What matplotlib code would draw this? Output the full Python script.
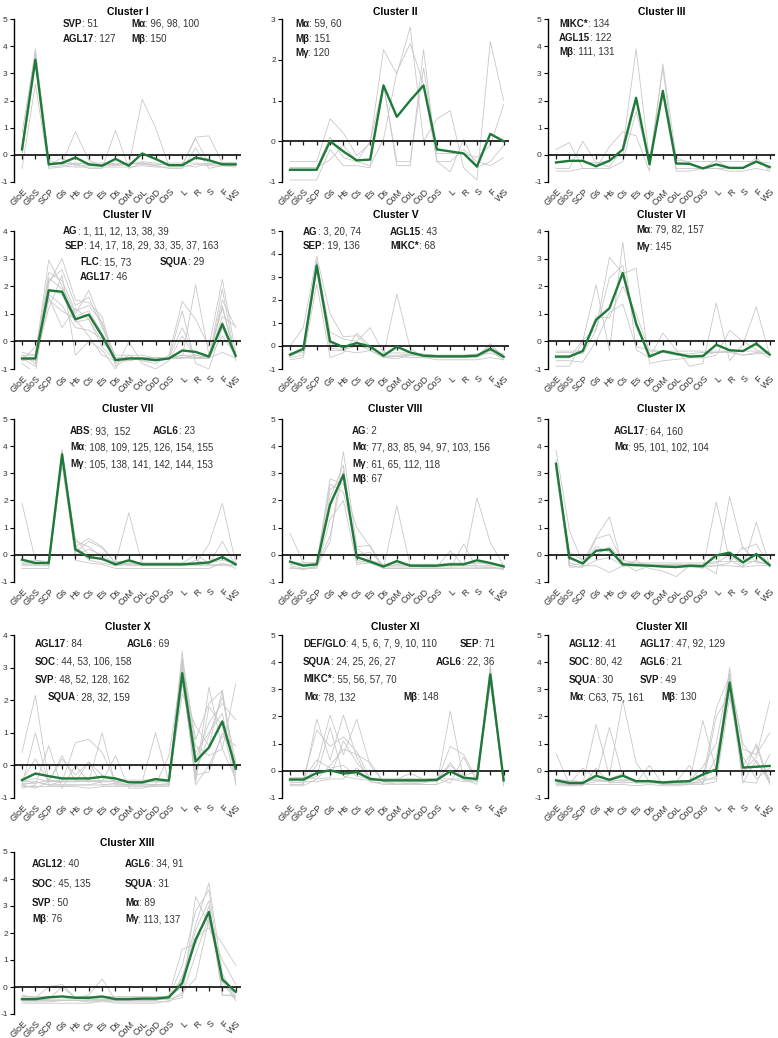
import matplotlib
matplotlib.use('Agg')
import matplotlib.pyplot as plt
from matplotlib.transforms import ScaledTranslation

plt.rcParams['font.family'] = ['Liberation Sans', 'DejaVu Sans']
plt.rcParams['axes.unicode_minus'] = False

tissues = ['GloE', 'GloS', 'SCP', 'Gs', 'Hs', 'Cs', 'Es', 'Ds', 'CoM', 'CoL',
           'CoD', 'CoS', 'L', 'R', 'S', 'F', 'WS']

titles = ['Cluster I', 'Cluster II', 'Cluster III', 'Cluster IV', 'Cluster V',
          'Cluster VI', 'Cluster VII', 'Cluster VIII', 'Cluster IX', 'Cluster X',
          'Cluster XI', 'Cluster XII', 'Cluster XIII']

y_ranges = [(-1, 5), (-1, 3), (-1, 5), (-1, 4), (-1, 5), (-1, 4), (-1, 5),
            (-1, 5), (-1, 5), (-1, 4), (-1, 5), (-1, 5), (-1, 5)]

# cluster means (green)
mean_1 = [0.2, 3.5, -0.35, -0.3, -0.1, -0.35, -0.4, -0.15, -0.4, 0.05, -0.15, -0.38, -0.38, -0.1, -0.2, -0.35, -0.35]
mean_2 = [-0.7, -0.7, -0.7, 0.0, -0.25, -0.47, -0.45, 1.37, 0.6, 1.0, 1.37, -0.2, -0.25, -0.3, -0.62, 0.18, 0.0]
mean_3 = [-0.28, -0.22, -0.22, -0.42, -0.22, 0.2, 2.1, -0.35, 2.35, -0.32, -0.33, -0.5, -0.35, -0.48, -0.48, -0.25, -0.45]
mean_4 = [-0.62, -0.62, 1.85, 1.8, 0.8, 0.97, 0.2, -0.68, -0.62, -0.62, -0.68, -0.62, -0.33, -0.38, -0.55, 0.63, -0.52]
mean_5 = [-0.38, -0.12, 3.5, 0.2, -0.05, 0.13, -0.02, -0.42, -0.03, -0.28, -0.42, -0.45, -0.45, -0.45, -0.42, -0.12, -0.47]
mean_6 = [-0.55, -0.55, -0.35, 0.78, 1.2, 2.48, 0.65, -0.55, -0.35, -0.45, -0.55, -0.53, -0.12, -0.32, -0.35, -0.08, -0.48]
mean_7 = [-0.18, -0.3, -0.3, 3.7, 0.2, -0.08, -0.15, -0.35, -0.2, -0.35, -0.35, -0.35, -0.35, -0.32, -0.28, -0.08, -0.35]
mean_8 = [-0.25, -0.4, -0.35, 1.85, 2.95, -0.08, -0.25, -0.43, -0.23, -0.4, -0.4, -0.4, -0.35, -0.35, -0.2, -0.3, -0.43]
mean_9 = [3.35, -0.1, -0.32, 0.15, 0.2, -0.35, -0.38, -0.4, -0.43, -0.45, -0.4, -0.42, -0.02, 0.08, -0.28, 0.03, -0.38]
mean_10 = [-0.45, -0.25, -0.33, -0.4, -0.4, -0.4, -0.35, -0.4, -0.52, -0.52, -0.42, -0.47, 2.83, 0.12, 0.55, 1.35, -0.1]
mean_11 = [-0.32, -0.32, -0.08, 0.02, -0.1, -0.05, -0.3, -0.35, -0.35, -0.35, -0.35, -0.33, -0.02, -0.25, -0.3, 3.55, -0.35]
mean_12 = [-0.35, -0.45, -0.45, -0.18, -0.33, -0.18, -0.38, -0.38, -0.43, -0.4, -0.38, -0.13, 0.05, 3.25, 0.12, 0.15, 0.18]
mean_13 = [-0.45, -0.45, -0.38, -0.35, -0.4, -0.4, -0.35, -0.45, -0.45, -0.43, -0.43, -0.38, 0.15, 1.75, 2.78, 0.28, -0.18]

# member genes (gray)
genes_1 = [
    [0.8, 3.8, -0.3, -0.3, 0.85, -0.2, -0.4, -0.3, -0.4, 2.05, 1.0, -0.4, -0.4, 0.65, 0.7, -0.3, -0.3],
    [-0.5, 2.6, -0.5, -0.45, -0.3, -0.5, -0.5, 0.9, -0.5, -0.3, -0.4, -0.5, -0.5, 0.25, -0.5, -0.4, -0.4],
    [0.2, 3.7, -0.4, -0.1, -0.4, -0.4, -0.35, -0.35, -0.35, -0.3, -0.35, -0.35, -0.35, -0.45, -0.3, -0.35, -0.4],
    [0.1, 3.6, -0.45, -0.4, -0.45, -0.45, -0.45, -0.45, -0.45, -0.4, -0.45, -0.45, -0.45, -0.35, -0.4, -0.4, -0.45],
    [0.3, 3.9, -0.2, -0.35, -0.3, -0.35, -0.4, -0.4, -0.35, -0.25, -0.3, -0.4, -0.35, 0.6, -0.35, -0.3, -0.3],
    [0.0, 3.4, -0.35, -0.3, -0.35, -0.3, -0.3, -0.35, -0.3, -0.35, -0.4, -0.3, -0.3, -0.3, -0.35, -0.3, -0.3],
]
genes_2 = [
    [-0.5, -0.5, -0.5, 0.55, 0.2, -0.35, -0.05, 2.25, 1.65, 2.8, 0.0, 0.55, 0.75, -0.65, -0.95, 2.45, 1.0],
    [-0.95, -0.95, -0.95, -0.2, -0.6, -0.6, -0.65, 1.4, -0.6, -0.6, 2.25, -0.5, -0.75, 0.05, -0.65, -0.5, -0.1],
    [-0.65, -0.65, -0.65, 0.1, -0.4, -0.5, -0.6, 0.05, 1.7, 2.4, 1.4, -0.5, -0.5, -0.2, -0.5, -0.6, -0.4],
    [-0.65, -0.65, -0.65, -0.45, -0.1, -0.5, 0.0, 1.4, -0.5, -0.5, 1.8, -0.3, -0.3, -0.3, -0.4, -0.1, 0.9],
]
genes_3 = [
    [0.2, 0.45, -0.5, -0.5, 0.3, 0.85, 0.7, -0.6, 3.35, -0.1, -0.3, -0.5, -0.2, -0.5, -0.5, -0.1, -0.6],
    [-0.5, -0.5, 0.5, -0.3, -0.45, 0.25, 3.9, -0.2, 2.2, -0.5, -0.5, -0.5, -0.5, -0.5, -0.5, -0.2, -0.5],
    [-0.6, -0.6, -0.5, -0.5, -0.5, -0.25, 1.6, -0.25, 3.2, -0.6, -0.6, -0.5, -0.5, -0.6, -0.6, -0.5, -0.6],
    [-0.3, -0.25, -0.25, -0.3, -0.2, 0.0, 2.0, -0.25, 2.4, -0.2, -0.25, -0.25, -0.25, -0.25, -0.25, -0.25, -0.3],
]
genes_4 = [
    [-0.4, -0.5, 2.95, 2.0, 1.0, 1.85, 0.6, -0.8, -0.5, -0.7, -0.8, -0.5, 1.45, 0.8, -0.2, 2.25, -0.4],
    [-0.8, -1.15, 2.1, 3.0, 1.5, 1.4, 0.9, -0.9, -0.6, -0.7, -0.7, -0.6, -0.6, 2.05, -0.5, 1.2, -0.6],
    [-0.6, -0.6, 1.2, 2.4, -0.5, 0.0, -0.3, -1.0, 0.0, -0.8, -1.0, -0.7, 0.2, -0.6, -0.6, 1.9, -0.7],
    [-0.7, -0.2, 1.6, 0.5, 1.2, 0.8, -0.2, -0.7, -0.6, -0.6, -0.7, -0.6, 1.1, -0.8, -1.0, 0.5, -0.6],
    [-0.5, -0.8, 2.3, 1.9, 0.9, 1.1, 0.3, -0.6, -0.6, -0.6, -0.6, -0.6, -0.5, -0.6, -0.6, 1.5, 0.5],
    [-0.6, -0.7, 1.7, 1.3, 0.5, 0.4, 0.1, -0.7, -0.7, -0.6, -0.7, -0.6, -0.6, -0.5, -0.6, 0.2, -0.5],
    [-0.7, -0.6, 2.2, 2.6, 1.3, 1.6, 0.5, -0.5, -0.5, -0.5, -0.6, -0.6, -0.5, -0.5, -0.6, -0.4, -0.6],
    [-0.6, -0.6, 1.9, 1.7, 0.7, 0.8, 0.0, -0.6, -0.6, -0.6, -0.6, -0.6, -0.6, -0.6, -0.6, 0.9, 0.55],
    [-0.6, -0.9, 1.5, 1.1, 0.8, 0.2, -0.5, -0.7, -0.7, -0.6, -0.6, -0.6, -0.6, -0.6, -0.6, 1.3, -0.6],
    [-0.5, -0.5, 2.5, 2.2, 1.1, 1.3, 0.7, -0.6, -0.6, -0.6, -0.6, -0.6, 0.5, -0.6, -0.5, 0.7, -0.5],
]
genes_5 = [
    [0.0, 0.8, 3.9, 1.4, 0.4, 0.45, -0.1, -0.4, 2.25, -0.1, -0.5, -0.5, -0.5, -0.5, -0.45, 0.1, -0.5],
    [-0.6, -0.5, 2.7, -0.5, -0.3, 0.55, 0.0, -0.5, -0.55, -0.4, -0.45, -0.5, -0.5, -0.5, -0.5, -0.2, -0.6],
    [-0.4, -0.1, 3.7, 0.6, 0.3, 0.2, 0.8, -0.3, -0.3, -0.3, -0.35, -0.4, -0.4, -0.4, -0.4, 0.0, -0.4],
    [-0.5, -0.4, 3.3, -0.2, -0.2, -0.3, -0.2, -0.5, -0.45, -0.5, -0.5, -0.6, -0.6, -0.6, -0.6, -0.5, -0.6],
    [-0.3, -0.3, 3.6, -0.1, -0.15, 0.0, -0.1, -0.4, -0.4, -0.35, -0.4, -0.4, -0.4, -0.4, -0.35, -0.2, -0.35],
    [-0.45, -0.2, 3.4, 0.1, -0.1, 0.1, -0.2, -0.45, -0.45, -0.4, -0.45, -0.45, -0.45, -0.45, -0.45, -0.3, -0.5],
]
genes_6 = [
    [-0.9, -0.9, 0.0, 2.05, -0.35, 3.6, -0.3, -0.6, 0.3, -0.3, -0.9, -0.8, 1.4, -0.7, -0.1, 1.25, -0.5],
    [-0.6, -0.6, 0.05, 0.45, 3.05, 2.45, 2.65, -0.8, -0.7, -0.65, -0.6, -0.6, -0.5, 0.4, 0.0, -0.3, -0.6],
    [-0.4, -0.4, -0.45, 0.4, 2.3, 2.75, 0.5, -0.5, -0.4, -0.5, -0.5, -0.5, -0.4, -0.4, -0.5, -0.4, -0.45],
    [-0.7, -0.7, -0.75, 0.0, 1.05, 1.35, -0.2, -0.3, -0.4, -0.45, -0.45, -0.4, -0.4, -0.35, -0.5, -0.45, -0.4],
    [-0.35, -0.35, -0.35, 0.9, 0.85, 2.0, 1.0, -0.35, -0.35, -0.35, -0.35, -0.35, -0.35, -0.35, -0.35, -0.35, -0.35],
]
genes_7 = [
    [1.9, -0.2, -0.3, 3.6, 0.3, 0.6, 0.3, -0.3, 1.55, -0.35, -0.35, -0.35, -0.35, -0.35, 0.4, 1.9, -0.3],
    [-0.3, -0.3, -0.3, 3.8, 0.5, 0.3, -0.1, -0.4, -0.3, -0.4, -0.4, -0.4, -0.4, -0.2, -0.35, 0.5, -0.4],
    [-0.4, -0.4, -0.4, 3.4, 0.1, 0.5, 0.25, -0.3, -0.4, -0.4, -0.4, -0.4, -0.4, -0.4, -0.4, -0.4, -0.4],
    [-0.5, -0.5, -0.5, 3.9, -0.2, -0.3, -0.35, -0.5, -0.5, -0.5, -0.5, -0.5, -0.5, -0.5, -0.5, -0.3, -0.5],
    [-0.2, -0.2, -0.25, 3.5, 0.6, 0.0, -0.2, -0.25, -0.25, -0.3, -0.3, -0.3, -0.3, 0.0, -0.3, -0.2, -0.3],
    [-0.35, -0.35, -0.4, 3.7, 0.35, -0.2, -0.3, -0.4, -0.35, -0.35, -0.35, -0.35, -0.35, -0.35, -0.35, -0.35, -0.35],
    [-0.3, -0.3, -0.35, 3.3, 0.0, 0.2, 0.0, -0.35, -0.3, -0.3, -0.3, -0.3, -0.3, -0.3, -0.3, -0.1, -0.3],
]
genes_8 = [
    [0.8, -0.3, -0.3, 2.8, 2.6, 1.0, 0.3, -0.5, 1.8, -0.4, -0.45, -0.45, 0.15, -0.4, 2.1, 0.45, -0.4],
    [-0.4, -0.5, -0.45, 0.5, 3.8, 0.3, 0.35, -0.5, -0.5, -0.5, -0.5, -0.5, -0.5, 0.4, -0.5, -0.5, -0.5],
    [-0.45, -0.55, -0.4, 2.6, 2.3, 0.25, -0.2, -0.45, -0.45, -0.45, -0.45, -0.45, -0.45, -0.45, -0.45, -0.45, -0.55],
    [-0.3, -0.3, -0.3, 2.1, 3.3, -0.3, -0.2, -0.35, -0.3, -0.35, -0.35, -0.35, -0.35, -0.35, -0.3, -0.35, -0.35],
    [-0.5, -0.5, -0.5, 1.3, 2.0, -0.35, -0.3, -0.5, -0.5, -0.5, -0.5, -0.5, -0.5, -0.5, -0.5, -0.45, -0.5],
    [-0.35, -0.4, -0.35, 2.4, 2.8, 0.0, 0.1, -0.4, -0.4, -0.4, -0.4, -0.4, -0.4, -0.4, -0.4, -0.4, -0.4],
    [-0.25, -0.35, -0.4, 0.7, 3.1, -0.2, -0.3, -0.45, -0.35, -0.35, -0.35, -0.35, -0.3, -0.3, -0.3, -0.3, -0.4],
]
genes_9 = [
    [3.85, 0.9, -0.3, 0.65, 1.4, -0.45, -0.2, -0.5, -0.6, -0.8, -0.4, -0.5, 1.95, -0.2, -0.45, 1.2, -0.4],
    [3.2, -0.45, -0.45, 0.6, 0.75, -0.3, -0.6, -0.4, -0.4, -0.4, -0.4, -0.4, -0.7, 2.15, 0.2, 0.4, -0.45],
    [3.5, -0.3, -0.4, -0.4, -0.65, -0.4, -0.4, -0.4, -0.4, -0.35, -0.4, -0.4, -0.4, -0.3, 0.3, -0.3, -0.3],
    [3.1, -0.4, -0.3, 0.3, 0.1, -0.3, -0.3, -0.35, -0.35, -0.35, -0.35, -0.35, -0.3, 0.0, -0.4, -0.2, -0.4],
    [3.3, 0.1, -0.2, 0.0, 0.3, -0.2, -0.3, -0.3, -0.3, -0.3, -0.3, -0.3, -0.25, -0.25, -0.25, -0.25, -0.35],
    [3.4, -0.4, -0.45, -0.2, -0.1, -0.4, -0.4, -0.4, -0.45, -0.45, -0.45, -0.45, -0.4, -0.4, -0.45, -0.4, -0.4],
]
genes_10 = [
    [0.4, 2.15, -0.5, 0.2, -0.3, 0.1, -0.3, -0.5, -0.6, -0.5, -0.5, -0.5, 3.5, -0.4, 2.4, 0.5, 2.5],
    [-0.6, 1.0, -0.6, -0.5, 0.7, 0.8, 0.4, -0.5, -0.5, -0.5, 1.0, -0.5, 3.3, 0.8, 1.9, 2.3, -0.6],
    [-0.7, -0.6, 0.6, -0.7, 0.0, -0.5, 1.0, -0.6, -0.6, -0.6, -0.6, -0.6, 2.5, 0.2, 1.3, 1.9, 1.4],
    [-0.5, -0.5, -0.6, -0.6, -0.6, -0.6, -0.5, 0.3, -0.7, -0.7, -0.6, 0.3, 3.0, -0.5, 1.8, 1.2, -0.5],
    [-0.6, -0.7, -0.5, 0.3, -0.5, -0.5, -0.5, -0.5, -0.5, -0.5, -0.5, -0.5, 2.2, 1.2, 0.6, 2.3, -0.2],
    [-0.5, -0.4, -0.5, -0.5, -0.5, 0.1, -0.6, -0.6, -0.6, -0.6, -0.6, -0.6, 2.9, -0.6, 0.0, 0.9, 0.6],
    [-0.6, -0.5, -0.6, -0.6, -0.6, -0.6, -0.6, -0.55, -0.6, -0.55, -0.6, -0.55, 3.1, 0.4, 1.0, 1.6, -0.3],
    [-0.55, -0.55, -0.45, -0.5, -0.5, -0.45, -0.5, -0.5, -0.5, -0.5, -0.5, -0.5, 2.7, -0.3, -0.2, 1.0, 0.2],
    [-0.45, 0.2, -0.5, -0.45, -0.45, -0.5, -0.45, -0.45, -0.45, -0.45, -0.45, -0.45, 2.6, -0.2, 0.9, 2.1, 0.1],
    [-0.65, -0.65, -0.65, -0.65, -0.65, -0.7, -0.65, -0.65, -0.65, -0.65, -0.65, -0.65, 3.2, 0.6, 0.3, 0.5, -0.4],
]
genes_11 = [
    [-0.5, -0.5, 1.9, 0.4, 2.05, 0.5, -0.4, -0.5, -0.5, -0.5, -0.5, -0.5, 2.2, -0.3, -0.5, 3.8, -0.5],
    [-0.4, -0.45, 0.2, 2.05, 0.6, 1.9, 0.2, -0.4, -0.4, -0.4, -0.4, -0.4, 0.9, 0.6, -0.3, 3.7, -0.4],
    [-0.3, -0.3, 1.5, 0.9, 1.25, 0.7, -0.3, -0.3, -0.3, -0.3, -0.3, -0.3, 0.2, -0.2, 0.0, 3.4, -0.4],
    [-0.55, -0.55, -0.3, 0.2, 0.8, 0.6, 0.3, -0.4, -0.5, -0.45, -0.5, -0.5, -0.3, -0.4, -0.4, 3.5, -0.55],
    [-0.35, -0.35, -0.2, 1.6, -0.2, -0.3, -0.35, -0.35, -0.3, -0.1, -0.3, -0.35, 0.3, -0.35, -0.35, 3.3, -0.35],
    [-0.25, -0.25, -0.3, -0.25, 1.1, 0.3, -0.25, -0.3, -0.3, -0.3, -0.3, -0.3, -0.3, -0.3, -0.3, 3.6, -0.3],
    [-0.45, -0.4, -0.4, -0.3, -0.3, 0.1, -0.4, -0.45, -0.45, -0.45, -0.45, -0.3, -0.45, 0.5, -0.4, 3.9, -0.45],
    [-0.3, -0.3, 0.4, 0.1, 0.2, -0.2, -0.3, -0.3, -0.3, -0.3, -0.3, -0.3, 0.0, -0.3, -0.3, 3.2, -0.3],
]
genes_12 = [
    [0.65, -0.5, -0.5, 1.7, -0.2, 2.6, 0.3, -0.4, -0.5, -0.5, -0.4, 1.85, 0.0, 3.8, -0.2, 1.0, -0.4],
    [-0.5, -0.5, 0.1, -0.3, 1.6, -0.2, -0.4, -0.4, -0.5, -0.4, 0.2, -0.5, 2.0, 2.8, 0.0, 0.5, 2.55],
    [-0.4, -0.55, -0.55, 0.1, -0.45, -0.4, -0.45, 0.2, -0.5, -0.5, -0.5, -0.3, 2.3, 3.5, 0.8, 0.6, 1.4],
    [-0.45, -0.45, -0.5, -0.4, -0.4, -0.45, -0.4, -0.4, -0.45, -0.45, -0.45, -0.4, -0.2, 3.0, 0.2, 0.9, -0.5],
    [-0.3, -0.4, -0.4, -0.3, -0.4, -0.3, -0.4, -0.4, -0.4, -0.35, -0.35, 0.15, 1.0, 3.6, -0.4, -0.45, 0.6],
    [-0.55, -0.55, -0.5, -0.5, -0.5, -0.5, -0.55, -0.5, -0.55, -0.55, -0.5, -0.5, -0.4, 2.7, 0.5, -0.3, 0.1],
    [-0.35, -0.35, -0.4, -0.35, -0.35, -0.35, -0.35, -0.35, -0.4, -0.4, -0.35, -0.3, -0.3, 3.4, 1.0, 0.3, -0.3],
    [-0.45, -0.5, -0.45, -0.2, -0.3, -0.1, -0.45, -0.45, -0.45, -0.45, -0.45, -0.45, 0.5, 3.1, -0.45, 0.4, -0.45],
]
genes_13 = [
    [-0.6, -0.6, -0.6, -0.6, -0.6, -0.6, -0.5, -0.6, -0.6, -0.6, -0.6, -0.5, -0.4, 3.35, 2.3, 1.6, 0.8],
    [-0.3, -0.4, 0.0, 0.1, -0.4, -0.3, 0.3, -0.5, -0.5, -0.5, -0.5, -0.4, 0.3, 2.3, 3.85, 0.5, -0.4],
    [-0.5, -0.5, -0.5, -0.5, -0.5, -0.5, -0.5, -0.5, -0.5, -0.5, -0.5, -0.3, 1.4, 1.6, 3.0, -0.3, -0.3],
    [-0.4, -0.4, -0.4, -0.35, -0.4, -0.4, -0.4, -0.4, -0.4, -0.4, -0.4, -0.4, 0.8, 2.8, 3.6, 0.0, -0.2],
    [-0.55, -0.55, -0.55, -0.5, -0.5, -0.55, -0.55, -0.55, -0.55, -0.55, -0.55, -0.55, -0.2, 0.3, 2.5, 0.2, -0.5],
    [-0.45, -0.45, -0.45, -0.45, -0.45, -0.45, -0.45, -0.45, -0.45, -0.45, -0.45, -0.45, 0.4, 1.8, 2.2, 1.0, 0.1],
    [-0.35, -0.35, -0.35, -0.35, -0.35, -0.35, -0.35, -0.35, -0.35, -0.35, -0.35, -0.35, 0.0, 2.1, 3.2, -0.3, -0.35],
    [-0.5, -0.5, -0.45, 0.0, -0.4, -0.45, -0.45, -0.45, -0.45, -0.45, -0.45, -0.45, -0.3, 1.2, 2.6, 0.4, -0.5],
]

means = [mean_1, mean_2, mean_3, mean_4, mean_5, mean_6, mean_7, mean_8, mean_9,
         mean_10, mean_11, mean_12, mean_13]
members = [genes_1, genes_2, genes_3, genes_4, genes_5, genes_6, genes_7, genes_8,
           genes_9, genes_10, genes_11, genes_12, genes_13]

# gene family labels: (bold name, numbers, x px, y px)
labels = [
    [('SVP', ': 51', 63, 24), ('M\u03b1', ': 96, 98, 100', 131, 24),
     ('AGL17', ': 127', 63, 39), ('M\u03b2', ': 150', 131, 39)],
    [('M\u03b1', ': 59, 60', 295, 24), ('M\u03b2', ': 151', 295, 39), ('M\u03b3', ': 120', 295, 53)],
    [('MIKC*', ': 134', 559, 24), ('AGL15', ': 122', 559, 38), ('M\u03b2', ': 111, 131', 559, 52)],
    [('AG', ': 1, 11, 12, 13, 38, 39', 63, 231), ('SEP', ': 14, 17, 18, 29, 33, 35, 37, 163', 65, 246),
     ('FLC', ': 15, 73', 80, 262), ('SQUA', ': 29', 160, 262), ('AGL17', ': 46', 80, 277)],
    [('AG', ': 3, 20, 74', 303, 232), ('AGL15', ': 43', 390, 232),
     ('SEP', ': 19, 136', 303, 246), ('MIKC*', ': 68', 390, 246)],
    [('M\u03b1', ': 79, 82, 157', 636, 230), ('M\u03b3', ': 145', 636, 247)],
    [('ABS', ': 93,  152', 70, 431), ('AGL6', ': 23', 153, 431),
     ('M\u03b1', ': 108, 109, 125, 126, 154, 155', 70, 447),
     ('M\u03b3', ': 105, 138, 141, 142, 144, 153', 70, 464)],
    [('AG', ': 2', 352, 431), ('M\u03b1', ': 77, 83, 85, 94, 97, 103, 156', 352, 447),
     ('M\u03b3', ': 61, 65, 112, 118', 352, 464), ('M\u03b2', ': 67', 352, 479)],
    [('AGL17', ': 64, 160', 614, 431), ('M\u03b1', ': 95, 101, 102, 104', 614, 447)],
    [('AGL17', ': 84', 35, 644), ('AGL6', ': 69', 127, 644), ('SOC', ': 44, 53, 106, 158', 35, 662),
     ('SVP', ': 48, 52, 128, 162', 35, 680), ('SQUA', ': 28, 32, 159', 48, 697)],
    [('DEF/GLO', ': 4, 5, 6, 7, 9, 10, 110', 303, 644), ('SEP', ': 71', 460, 644),
     ('SQUA', ': 24, 25, 26, 27', 303, 662), ('AGL6', ': 22, 36', 436, 662),
     ('MIKC*', ': 55, 56, 57, 70', 303, 679), ('M\u03b1', ': 78, 132', 304, 697),
     ('M\u03b2', ': 148', 403, 697)],
    [('AGL12', ': 41', 569, 644), ('AGL17', ': 47, 92, 129', 640, 644),
     ('SOC', ': 80, 42', 569, 662), ('AGL6', ': 21', 640, 662),
     ('SQUA', ': 30', 569, 680), ('SVP', ': 49', 640, 680),
     ('M\u03b1', ': C63, 75, 161', 569, 697), ('M\u03b2', ': 130', 661, 697)],
    [('AGL12', ': 40', 32, 864), ('AGL6', ': 34, 91', 125, 864),
     ('SOC', ': 45, 135', 32, 884), ('SQUA', ': 31', 125, 884),
     ('SVP', ': 50', 32, 903), ('M\u03b1', ': 89', 125, 903),
     ('M\u03b2', ': 76', 32, 919), ('M\u03b3', ': 113, 137', 125, 919)],
]

W, H = 778, 1038
fig = plt.figure(figsize=(W / 100, H / 100), dpi=100)

col_left = [14, 282, 548]
ax_width = 227
row_top = [19, 231, 419, 635, 852]
row_bottom = [182, 369, 582, 798, 1014]
title_y = [12, 215, 409, 627, 843]

x = list(range(len(tissues)))
shift = ScaledTranslation(4 / 100, 0, fig.dpi_scale_trans)

for i in range(13):
    r, c = divmod(i, 3)
    left, top, bottom = col_left[c], row_top[r], row_bottom[r]
    ax = fig.add_axes([left / W, 1 - bottom / H, ax_width / W, (bottom - top) / H])
    lo, hi = y_ranges[i]

    for g in members[i]:
        ax.plot(x, g, color='#c8c8c8', lw=0.6, zorder=2)
    ax.axhline(0, color='#1c1c1c', lw=1.3, zorder=2.5)
    ax.plot(x, [0] * len(x), ls='none', marker=3, ms=3, mew=0.9, color='#1c1c1c', zorder=2.5)
    ax.plot(x, means[i], color='#1f7a3a', lw=1.7, zorder=3)

    ax.set_xlim(-0.6, 16.4)
    ax.set_ylim(lo, hi)
    for s in ['top', 'right', 'bottom']:
        ax.spines[s].set_visible(False)
    ax.spines['left'].set_linewidth(1.0)
    ax.set_yticks(range(lo, hi + 1))
    ax.tick_params(axis='y', length=3, width=0.8, labelsize=6, pad=1.5, labelcolor='#333333')
    ax.set_xticks(x)
    ax.set_xticklabels(tissues, rotation=45, ha='right', va='center', rotation_mode='anchor',
                       fontsize=6.5, color='#333333')
    ax.tick_params(axis='x', length=0, pad=6)
    for lab in ax.get_xticklabels():
        lab.set_transform(lab.get_transform() + shift)

    fig.text((left + ax_width / 2) / W, 1 - title_y[r] / H, titles[i],
             ha='center', va='center', fontsize=7.5, fontweight='bold')

    for name, nums, tx, ty in labels[i]:
        t = fig.text(tx / W, 1 - ty / H, name, ha='left', va='center',
                     fontsize=7, fontweight='bold', color='#1a1a1a')
        ax.annotate(nums, xy=(1, 0.5), xycoords=t, ha='left', va='center',
                    fontsize=7, color='#333333', annotation_clip=False)

fig.savefig('out.png', dpi=100)
